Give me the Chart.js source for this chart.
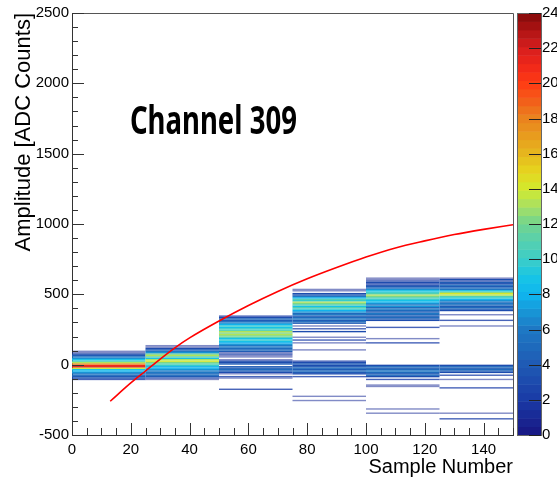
<!DOCTYPE html>
<html>
<head>
<meta charset="utf-8">
<script src="https://cdn.jsdelivr.net/npm/chart.js@4/dist/chart.umd.min.js"></script>
<style>
  html, body { margin: 0; padding: 0; background: #fff; }
  canvas { display: block; }
</style>
</head>
<body>
<canvas id="myChart" width="557" height="479"></canvas>
<script>
// x bins (sample number) and y bins (ADC counts, 10 per bin)
const xBinEdges = [0, 25, 50, 75, 100, 125, 150];
const yBinWidth = 10;
// lower edge of the first y bin of each column
const colStarts = [-110, -110, -180, -260, -350, -390];

// entries per y bin, bottom to top
const col1Counts = [2, 3, 4, 5, 6, 7, 8, 9, 14, 22, 21, 18, 13, 11, 9, 7, 6, 4, 3, 1, 1];
const col2Counts = [1, 2, 4, 5, 5, 6, 6, 7, 8, 8, 10, 11, 12, 14, 13, 9, 11, 13, 12, 7, 6, 4, 3, 1, 1];
const col3Counts = [2, 0, 0, 0, 0, 0, 0, 0, 1, 2, 0, 1, 3, 4, 5, 4, 4, 0, 4, 3,
  3, 1, 0, 1, 1, 2, 1, 4, 5, 5, 6, 6, 7, 8, 9, 10, 9, 11, 12, 13,
  12, 13, 11, 10, 9, 10, 8, 7, 5, 4, 5, 3, 2];
const col4Counts = [1, 0, 0, 1, 0, 0, 0, 0, 0, 0, 0, 0, 0, 0, 0, 0, 0, 2, 0, 3,
  4, 5, 4, 5, 4, 3, 4, 3, 2, 0, 0, 0, 0, 0, 0, 0, 1, 0, 0, 0,
  0, 1, 0, 2, 0, 1, 0, 0, 0, 3, 0, 2, 0, 1, 0, 4, 5, 4, 6, 5,
  4, 6, 5, 7, 8, 10, 11, 9, 11, 12, 13, 10, 11, 8, 6, 4, 3, 0, 1, 1];
const col5Counts = [1, 0, 0, 1, 0, 0, 0, 0, 0, 0, 0, 0, 0, 0, 0, 0, 0, 0, 0, 1,
  1, 0, 0, 0, 2, 0, 3, 5, 4, 5, 6, 5, 4, 5, 3, 0, 0, 0, 0, 0,
  0, 0, 0, 0, 0, 0, 0, 0, 0, 0, 2, 0, 0, 1, 0, 0, 0, 0, 0, 0,
  0, 2, 0, 0, 0, 0, 3, 4, 5, 4, 5, 6, 4, 5, 6, 5, 7, 6, 7, 8,
  9, 10, 11, 12, 13, 11, 10, 9, 7, 5, 4, 3, 2, 3, 2, 1, 1];
const col6Counts = [2, 0, 0, 0, 1, 0, 0, 0, 0, 0, 0, 0, 0, 0, 0, 0, 0, 0, 0, 0,
  0, 0, 2, 0, 0, 0, 0, 0, 1, 0, 0, 2, 0, 3, 4, 5, 4, 5, 3, 0,
  0, 0, 0, 0, 0, 0, 0, 0, 0, 0, 0, 0, 0, 0, 0, 0, 0, 0, 0, 0,
  0, 0, 0, 0, 0, 0, 1, 0, 0, 0, 2, 0, 0, 0, 1, 0, 0, 3, 4, 5,
  4, 5, 6, 5, 7, 8, 10, 11, 13, 14, 12, 9, 6, 5, 4, 5, 3, 4, 2, 3, 1];
const columns = [col1Counts, col2Counts, col3Counts, col4Counts, col5Counts, col6Counts];

// red fit curve
const fitX = [13, 20, 25, 30, 35, 40, 50, 60, 70, 80, 90, 100, 110, 120, 130, 140, 150];
const fitY = [-260, -130, -45, 40, 120, 190, 310, 420, 520, 610, 690, 765, 830, 880, 925, 962, 995];

// axis ticks
const xTicks = [0, 20, 40, 60, 80, 100, 120, 140];
const yTicks = [-500, 0, 500, 1000, 1500, 2000, 2500];
const zTicks = [0, 2, 4, 6, 8, 10, 12, 14, 16, 18, 20, 22, 24];
const zMax = 24;

const channelLabel = "Channel 309";

// rainbow palette (approx ROOT kRainBow)
const paletteStops = [
  [0, [24, 22, 130]], [2, [26, 58, 166]], [4, [31, 90, 180]], [6, [30, 120, 196]],
  [7, [24, 149, 214]], [8, [15, 180, 238]], [9, [23, 197, 230]], [10, [60, 205, 200]],
  [11, [85, 208, 176]], [12, [112, 212, 143]], [13, [168, 224, 100]], [14, [210, 234, 46]],
  [15, [230, 212, 30]], [16, [230, 183, 30]], [17, [232, 157, 30]], [18, [234, 131, 30]],
  [19, [242, 95, 26]], [20, [255, 60, 20]], [21, [240, 40, 26]], [22, [216, 30, 30]],
  [23, [176, 20, 20]], [24, [130, 10, 10]]
];

function paletteColor(z) {
  // 50 contour levels like ROOT
  const lvl = Math.min(49, Math.floor((z / zMax) * 50));
  const zq = (lvl + 0.5) * zMax / 50;
  for (let i = 1; i < paletteStops.length; i++) {
    const [z0, c0] = paletteStops[i - 1];
    const [z1, c1] = paletteStops[i];
    if (zq <= z1) {
      const t = (zq - z0) / (z1 - z0);
      const c = c0.map((v, k) => Math.round(v + (c1[k] - v) * t));
      return `rgb(${c[0]},${c[1]},${c[2]})`;
    }
  }
  const c = paletteStops[paletteStops.length - 1][1];
  return `rgb(${c[0]},${c[1]},${c[2]})`;
}

const axisFont = { family: "'Liberation Sans', Arial, sans-serif", size: 15 };
const titleFont = { family: "'Liberation Sans', Arial, sans-serif", size: 20 };
const yTitleFont = { family: "'Liberation Sans', Arial, sans-serif", size: 22 };

function noPadding(s) {
  s.paddingTop = 0;
  s.paddingBottom = 0;
  s.paddingLeft = 0;
  s.paddingRight = 0;
}

const hist2dPlugin = {
  id: "hist2d",
  beforeDatasetsDraw(chart) {
    const { ctx, chartArea, scales } = chart;
    const xs = scales.x, ys = scales.y;
    ctx.save();
    ctx.beginPath();
    ctx.rect(chartArea.left, chartArea.top, chartArea.right - chartArea.left, chartArea.bottom - chartArea.top);
    ctx.clip();
    columns.forEach((counts, i) => {
      const x0 = xs.getPixelForValue(xBinEdges[i]);
      const x1 = xs.getPixelForValue(xBinEdges[i + 1]);
      counts.forEach((n, j) => {
        if (n <= 0) return;
        const lo = colStarts[i] + j * yBinWidth;
        const py0 = ys.getPixelForValue(lo + yBinWidth);
        const py1 = ys.getPixelForValue(lo);
        ctx.globalAlpha = n === 1 ? 0.55 : (n === 2 ? 0.8 : 1);
        ctx.fillStyle = paletteColor(n);
        ctx.fillRect(x0, py0, x1 - x0, py1 - py0);
      });
    });
    ctx.restore();
  },
  afterDraw(chart) {
    const { ctx, chartArea, scales } = chart;
    const xs = scales.x, ys = scales.y, zs = scales.z;
    ctx.save();
    // frame top and right
    ctx.strokeStyle = "#555";
    ctx.lineWidth = 1;
    ctx.beginPath();
    ctx.moveTo(chartArea.left, chartArea.top + 0.5);
    ctx.lineTo(chartArea.right + 0.5, chartArea.top + 0.5);
    ctx.lineTo(chartArea.right + 0.5, chartArea.bottom);
    ctx.stroke();

    // inward tick marks
    ctx.strokeStyle = "#333";
    ctx.beginPath();
    for (let v = 0; v <= 150; v += 5) {
      const px = Math.round(xs.getPixelForValue(v)) + 0.5;
      const len = v % 20 === 0 ? 12 : 7;
      ctx.moveTo(px, chartArea.bottom);
      ctx.lineTo(px, chartArea.bottom - len);
    }
    for (let v = -500; v <= 2500; v += 100) {
      const py = Math.round(ys.getPixelForValue(v)) + 0.5;
      const len = v % 500 === 0 ? 12 : 6;
      ctx.moveTo(chartArea.left, py);
      ctx.lineTo(chartArea.left + len, py);
    }
    ctx.stroke();

    // colour bar
    const bx0 = 517, bx1 = 541;
    const steps = 50;
    for (let k = 0; k < steps; k++) {
      const zlo = k * zMax / steps, zhi = (k + 1) * zMax / steps;
      const p0 = zs.getPixelForValue(zhi), p1 = zs.getPixelForValue(zlo);
      ctx.fillStyle = paletteColor((zlo + zhi) / 2);
      ctx.fillRect(bx0, p0, bx1 - bx0, p1 - p0 + 0.5);
    }
    ctx.strokeStyle = "#666";
    ctx.strokeRect(bx0 + 0.5, zs.top + 0.5, bx1 - bx0, zs.bottom - zs.top);
    ctx.strokeStyle = "#222";
    ctx.beginPath();
    zTicks.forEach(v => {
      const py = Math.round(zs.getPixelForValue(v)) + 0.5;
      ctx.moveTo(bx1 - 12, py);
      ctx.lineTo(bx1, py);
    });
    ctx.stroke();

    // channel label
    ctx.fillStyle = "#000";
    ctx.font = "bold 39px 'Noto Sans', sans-serif";
    ctx.textBaseline = "alphabetic";
    ctx.textAlign = "left";
    ctx.fillText(channelLabel, xs.getPixelForValue(19.7), ys.getPixelForValue(1640), 167);
    ctx.restore();
  }
};

const plainLabel = (v) => String(v);

const ctx = document.getElementById("myChart").getContext("2d");
const myChart = new Chart(ctx, {
  type: "scatter",
  data: {
    datasets: [
      {
        data: fitX.map((x, i) => ({ x: x, y: fitY[i] })),
        showLine: true,
        borderColor: "#ff0000",
        borderWidth: 1.6,
        pointRadius: 0,
        cubicInterpolationMode: "monotone",
        fill: false,
      },
    ],
  },
  options: {
    responsive: false,
    animation: false,
    devicePixelRatio: 1,
    layout: { padding: { top: 13, right: 0, left: 0, bottom: 0 } },
    plugins: { legend: { display: false }, tooltip: { enabled: false } },
    scales: {
      x: {
        type: "linear",
        min: 0,
        max: 150,
        afterBuildTicks: (s) => { s.ticks = xTicks.map(v => ({ value: v })); },
        afterFit: (s) => { s.height = 44; noPadding(s); },
        grid: { display: false, drawTicks: false },
        border: { display: true, color: "#333", width: 1 },
        ticks: { font: axisFont, color: "#000", padding: 6, maxRotation: 0, callback: plainLabel },
        title: { display: true, text: "Sample Number", align: "end", font: titleFont, color: "#000", padding: { top: 0, bottom: 0 } },
      },
      y: {
        type: "linear",
        min: -500,
        max: 2500,
        afterBuildTicks: (s) => { s.ticks = yTicks.map(v => ({ value: v })); },
        afterFit: (s) => { s.width = 72; noPadding(s); },
        grid: { display: false, drawTicks: false },
        border: { display: true, color: "#333", width: 1 },
        ticks: { font: axisFont, color: "#000", padding: 3, callback: plainLabel },
        title: { display: true, text: "Amplitude [ADC Counts]", align: "end", font: yTitleFont, color: "#000", padding: { top: 11, bottom: 0 } },
      },
      z: {
        type: "linear",
        position: "right",
        min: 0,
        max: zMax,
        afterBuildTicks: (s) => { s.ticks = zTicks.map(v => ({ value: v })); },
        afterFit: (s) => { s.width = 44; noPadding(s); },
        grid: { display: false, drawTicks: false },
        border: { display: false },
        ticks: { font: axisFont, color: "#000", padding: 29, callback: plainLabel },
      },
    },
  },
  plugins: [hist2dPlugin],
});
</script>
</body>
</html>
